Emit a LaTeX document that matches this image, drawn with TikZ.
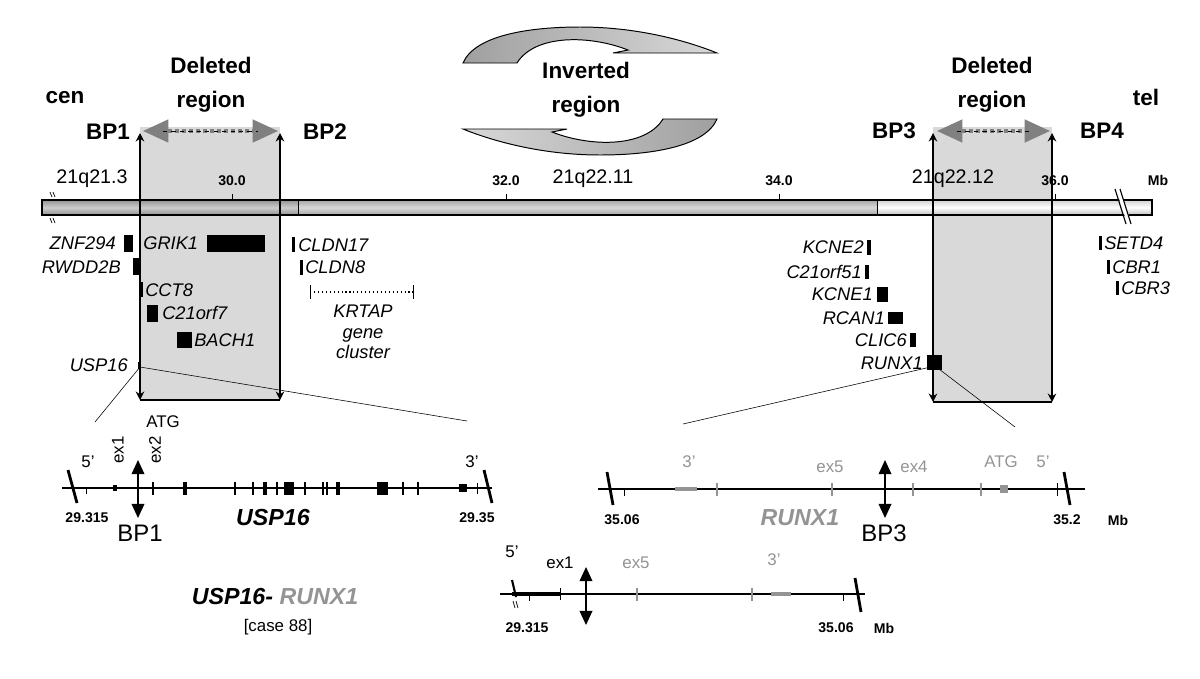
\documentclass[tikz,border=0pt]{standalone}
\usepackage{fontspec}
\setmainfont{Liberation Sans}
\usetikzlibrary{arrows.meta}

\definecolor{boxgray}{gray}{0.85}
\definecolor{exgray}{gray}{0.58}
\definecolor{arrgray}{gray}{0.5}

\tikzset{
  lab/.style={inner sep=0pt},
  bp/.style={lab, font=\fontsize{16}{18}\selectfont\bfseries},
  bptext/.style={lab, font=\fontsize{17}{19}\selectfont},
  headlab/.style={lab, align=center, font=\fontsize{16}{24}\selectfont\bfseries},
  band/.style={lab, font=\fontsize{14}{16}\selectfont},
  mb/.style={lab, font=\fontsize{10}{11}\selectfont\bfseries},
  gene/.style={lab, font=\fontsize{13}{14.5}\selectfont\itshape},
  anno/.style={lab, font=\fontsize{12}{14}\selectfont},
  locus/.style={lab, font=\fontsize{16.5}{19}\selectfont\bfseries\itshape},
  bpline/.style={line width=1.1pt, {Stealth[length=6pt,width=6pt]}-{Stealth[length=6pt,width=6pt]}},
  genebp/.style={line width=1pt, {Triangle[length=10pt,width=9pt]}-{Triangle[length=10pt,width=9pt]}},
  delarrow/.style={arrgray, line width=2.2pt, dash pattern=on 3pt off 2pt, {Triangle[length=18pt,width=16pt]}-{Triangle[length=18pt,width=16pt]}},
  invarrow/.style={draw=black, line width=0.7pt},
  brk/.style={line width=2pt},
  thintick/.style={line width=0.8pt},
  thicktick/.style={line width=2.2pt}
}

\begin{document}
\begin{tikzpicture}[x=0.025cm,y=-0.025cm]
\useasboundingbox (0,0) rectangle (1200,678);

% deleted regions
\fill[boxgray] (140,127) rectangle (280,400);
\fill[boxgray] (933,127) rectangle (1052,402);

% inversion arrows
\shade[invarrow, left color=gray!75, right color=gray!30]
  (463,63) .. controls (475,35) and (530,27) .. (580,27)
  .. controls (640,27) and (690,42) .. (717,53) -- (613,53) -- (628,50)
  .. controls (590,35) and (535,34) .. (517,63) -- cycle;
\shade[invarrow, left color=gray!30, right color=gray!75]
  (717,119) .. controls (705,147) and (650,155) .. (600,155)
  .. controls (540,155) and (490,140) .. (463,129) -- (567,129) -- (552,132)
  .. controls (590,147) and (645,148) .. (663,119) -- cycle;

% chromosome 21
\shade[top color=gray!85, bottom color=gray!85, middle color=gray!40] (42,200) rectangle (298,215);
\shade[top color=gray!70, bottom color=gray!70, middle color=gray!30] (298,200) rectangle (877,215);
\shade[top color=gray!35, bottom color=gray!50, middle color=white] (877,200) rectangle (1152,215);
\draw[line width=0.9pt] (42,200) rectangle (1152,215);
\draw[line width=0.6pt] (298,200) -- (298,215) (877,200) -- (877,215);
\foreach \x/\t in {232/30.0,506/32.0,779/34.0,1055/36.0}{
  \draw (\x,194) -- (\x,200);
  \node[mb] (tick\x) at (\x,181) {\t};
}
\draw[line width=0.5pt] (50,192) -- (52,197) (53,192) -- (55,197) (50,218) -- (52,223) (53,218) -- (55,223);
\draw[white, line width=3pt] (1119,192) -- (1129,222);
\draw[line width=0.8pt] (1115,189) -- (1126,224) (1120,189) -- (1131,224);

% breakpoints
\coordinate (bp1t) at (140,133); \coordinate (bp1b) at (140,400);
\coordinate (bp2t) at (280,133); \coordinate (bp2b) at (280,400);
\coordinate (bp3t) at (933,133); \coordinate (bp3b) at (933,402);
\coordinate (bp4t) at (1052,133); \coordinate (bp4b) at (1052,402);
\draw[bpline] (bp1t) -- (bp1b);
\draw[bpline] (bp2t) -- (bp2b);
\draw[bpline] (bp3t) -- (bp3b);
\draw[bpline] (bp4t) -- (bp4b);
\draw[line width=1.1pt] (bp1b) -- (bp2b) (bp3b) -- (bp4b);

\draw[delarrow] (143,131) -- (278,131);
\draw[delarrow] (937,131) -- (1050,131);
\draw[line width=0.5pt, dashed] (163,131) -- (258,131) (957,131) -- (1030,131);

\node[bp] (cen) at (65,98) {cen};
\node[bp] (tel) at (1146,97) {tel};
\node[headlab] (delL) at (211,85) {Deleted\\region};
\node[headlab] (delR) at (992,85) {Deleted\\region};
\node[headlab] (inv) at (586,90) {Inverted\\region};
\node[bp] (bp1) at (108,132) {BP1};
\node[bp] (bp2) at (325,132) {BP2};
\node[bp] (bp3) at (894,131) {BP3};
\node[bp] (bp4) at (1102,131) {BP4};

\node[band] (q213) at (92,179) {21q21.3};
\node[band] (q2211) at (593,179) {21q22.11};
\node[band] (q2212) at (953,179) {21q22.12};
\node[mb] (mbtop) at (1158,180) {Mb};

% genes, proximal
\node[gene, anchor=east] (znf) at (116,243) {ZNF294};
\fill (124,235) rectangle (133,252);
\node[gene, anchor=west] (grik) at (143,243) {GRIK1};
\fill (207,235) rectangle (265,252);
\node[gene, anchor=east] (rwdd) at (121,267) {RWDD2B};
\fill (133,258) rectangle (140,275);
\fill (292,237) rectangle (295,252);
\node[gene, anchor=west] (cldn17) at (298,245) {CLDN17};
\fill (300,260) rectangle (303,275);
\node[gene, anchor=west] (cldn8) at (305,267) {CLDN8};
\draw[dotted, line width=0.8pt] (310,292) -- (413,292);
\draw (310,285) -- (310,299) (413,285) -- (413,299);
\node[gene, align=center] (krtap) at (363,332) {KRTAP\\gene\\cluster};
\fill (141,282) rectangle (143,297);
\node[gene, anchor=west] (cct) at (145,290) {CCT8};
\fill (147,305) rectangle (158,322);
\node[gene, anchor=west] (c21o7) at (162,313) {C21orf7};
\fill (177,332) rectangle (192,348);
\node[gene, anchor=west] (bach) at (194,340) {BACH1};
\node[gene, anchor=east] (usp) at (128,365) {USP16};
\fill (138,362) rectangle (141,369);

% genes, distal
\node[gene, anchor=east] (kcne2) at (864,247) {KCNE2};
\fill (867,240) rectangle (871,255);
\node[gene, anchor=east] (c21o51) at (862,272) {C21orf51};
\fill (865,265) rectangle (869,279);
\node[gene, anchor=east] (kcne1) at (873,294) {KCNE1};
\fill (877,287) rectangle (888,302);
\node[gene, anchor=east] (rcan) at (885,318) {RCAN1};
\fill (888,312) rectangle (903,324);
\node[gene, anchor=east] (clic) at (907,340) {CLIC6};
\fill (910,333) rectangle (916,347);
\node[gene, anchor=east] (runx) at (923,363) {RUNX1};
\fill (927,355) rectangle (942,370);
\fill (1099,236) rectangle (1102,250);
\node[gene, anchor=west] (setd) at (1104,243) {SETD4};
\fill (1107,260) rectangle (1110,274);
\node[gene, anchor=west] (cbr1) at (1112,267) {CBR1};
\fill (1116,281) rectangle (1119,295);
\node[gene, anchor=west] (cbr3) at (1121,288) {CBR3};

% zoom lines
\coordinate (uspgene) at (140,367);
\coordinate (uspL) at (95,422);
\coordinate (uspR) at (467,421);
\coordinate (runxgene) at (935,366);
\coordinate (runxL) at (683,424);
\coordinate (runxR) at (1015,427);
\draw (uspgene) -- (uspL) (uspgene) -- (uspR);
\draw (runxgene) -- (runxL) (runxgene) -- (runxR);

% USP16 locus
\draw[line width=0.9pt] (62,488) -- (492,488);
\draw[brk] (68,470) -- (77,503) (484,470) -- (492,503);
\foreach \x in {153,235,253,277,293,305,323,327,403,418}
  \draw[thintick] (\x,482) -- (\x,495);
\foreach \x in {185,265,286,290,338}
  \draw[thicktick] (\x,482) -- (\x,495);
\fill (377,482) rectangle (388,495);
\draw (86,488) -- (86,494) (477,483) -- (477,494);
\fill (113,485) rectangle (117,491);
\fill (459,484) rectangle (467,492);
\coordinate (a1t) at (138,460); \coordinate (a1b) at (138,518);
\draw[genebp] (a1b) -- (a1t);
\node[anno] (usp5) at (88,462) {5'};
\node[anno, rotate=90] (uspex1) at (118,450) {ex1};
\node[anno, rotate=90] (uspex2) at (155,450) {ex2};
\node[anno] (uspatg) at (163,422) {ATG};
\node[anno] (usp3) at (472,462) {3'};
\node[mb] (uspstart) at (87,518) {29.315};
\node[mb] (uspend) at (477,518) {29.35};
\node[bptext] (bp1low) at (140,533) {BP1};
\node[locus] (usplocus) at (273,518) {USP16};

% RUNX1 locus
\draw[line width=0.9pt] (598,489) -- (1085,489);
\draw[brk] (607,472) -- (613,505) (1064,472) -- (1070,505);
\draw[exgray, line width=3.5pt] (675,489) -- (697,489);
\foreach \x in {717,832,913,981}
  \draw[exgray, thintick] (\x,483) -- (\x,496);
\fill[exgray] (1000,485) rectangle (1008,493);
\draw (624,489) -- (624,496) (1057,483) -- (1057,496);
\coordinate (a3t) at (885,460); \coordinate (a3b) at (885,518);
\draw[genebp] (a3b) -- (a3t);
\node[anno, exgray] (runx3) at (689,462) {3'};
\node[anno, exgray] (runxex5) at (830,467) {ex5};
\node[anno, exgray] (runxex4) at (914,467) {ex4};
\node[anno, exgray] (runxatg) at (1001,462) {ATG};
\node[anno, exgray] (runx5) at (1043,462) {5'};
\node[mb] (runxstart) at (622,520) {35.06};
\node[mb] (runxend) at (1067,520) {35.2};
\node[mb] (mbrunx) at (1118,520) {Mb};
\node[locus, exgray] (runxlocus) at (800,518) {RUNX1};
\node[bptext] (bp3low) at (884,533) {BP3};

% fusion
\draw[line width=0.9pt] (500,594) -- (865,594);
\draw[line width=2.5pt] (512,594) -- (560,594);
\draw (560,588) -- (560,600) (529,594) -- (529,601) (843,594) -- (843,601);
\draw[line width=1.5pt] (512,580) -- (516,597);
\draw[line width=0.5pt] (513,601) -- (515,608) (516,601) -- (518,608);
\foreach \x in {637,752}
  \draw[exgray, thintick] (\x,588) -- (\x,601);
\draw[exgray, line width=3.5pt] (771,594) -- (791,594);
\draw[brk] (855,578) -- (861,612);
\coordinate (aft) at (586,567); \coordinate (afb) at (586,625);
\draw[genebp] (afb) -- (aft);
\node[anno] (fus5) at (512,552) {5'};
\node[anno] (fusex1) at (560,563) {ex1};
\node[anno, exgray] (fusex5) at (636,563) {ex5};
\node[anno, exgray] (fus3) at (774,560) {3'};
\node[mb] (fusstart) at (527,628) {29.315};
\node[mb] (fusend) at (836,628) {35.06};
\node[mb] (mbfus) at (884,628) {Mb};
\node[locus] (fusname) at (275,596) {USP16- \textcolor{exgray}{RUNX1}};
\node[anno] (case) at (278,627) {[case 88]};
\end{tikzpicture}
\end{document}
